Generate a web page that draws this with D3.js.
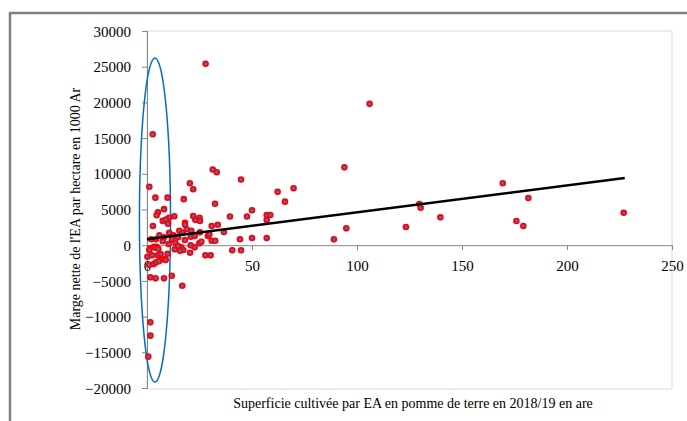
<!DOCTYPE html>
<html>
<head>
<meta charset="utf-8">
<script src="https://d3js.org/d3.v7.min.js"></script>
<style>
  html, body { margin: 0; padding: 0; background: #fff; }
  svg { display: block; }
  text { font-family: "Liberation Serif", "DejaVu Serif", serif; fill: #000; }
</style>
</head>
<body>
<svg id="chart" width="687" height="421"></svg>
<script>
// Superficie (are)
const areaValues = [
  106, 94, 62.2, 69.8, 65.7, 57, 58.7, 129.7, 130.3, 139.7, 123.3, 94.9, 89,
  169.4, 181.6, 175.9, 179.2, 227,
  27.9, 2.7, 31.3, 33.2, 44.8, 1.1, 20.4, 22, 4, 9.8, 17.5, 32.4, 8.1, 50,
  5.2, 4.6, 47.6, 39.5, 57, 13, 10.5, 7.5, 9, 10, 22, 23, 25, 25.2,
  18.1, 18.1, 30.8, 33.7, 2.8, 29, 29.7, 25.2, 36.6,
  15.4, 17, 18.9, 21.1, 10.6, 5.9, 8.1, 12.5, 2, 4.3, 11.9,
  14.8, 18, 20.8, 22.7, 24.9, 25.9, 30.8, 32.5, 44.3, 50, 57,
  13.5, 10.3, 7.5, 4.6, 1.4, 3.3, 13.2, 16.3, 14.8, 17.3, 20.5, 15.7,
  22.7, 20.8, 27.8, 30.3, 40.6, 44.8, 0.2, 2.4, 5.2, 6.5, 7.1, 8.7,
  1.1, 3.2, 4.3, 5.7, 8.9, 1.6, 4.1, 8.1, 11.8, 16.8, 1.6, 1.6, 0.6,
  1.1, 4.1, 5.4, 9.8
];
// Marge nette (1000 Ar / ha)
const margeValues = [
  19800, 10900, 7470, 7970, 6100, 4230, 4230, 5770, 5250, 3900, 2550, 2360, 820,
  8670, 6610, 3390, 2690, 4550,
  25420, 15530, 10600, 10210, 9200, 8190, 8670, 7830, 6660, 6660, 6450, 5800, 5050, 4900,
  4600, 4200, 4020, 4020, 3530, 4050, 3850, 3400, 3580, 3000, 4100, 3550, 3850, 3400,
  3150, 2900, 2690, 2870, 2690, 1290, 1530, 1800, 1850,
  2030, 1750, 2230, 2030, 1750, 1390, 1110, 1390, 830, 830, 830,
  1110, 730, 1190, 1290, 270, 490, 630, 630, 830, 1000, 1000,
  350, 170, 550, -210, -430, -210, -580, -300, -110, -670, -1050, -770,
  -300, -20, -1420, -1420, -700, -700, -1610, -1420, -1420, -1230, -1970, -1950,
  -2730, -2650, -2400, -2250, -2070, -4500, -4640, -4640, -4270, -5670, -10800, -12670, -15610,
  -670, -350, -490, -1190
];
// Trend line end points
const trendX = [0, 227.5];
const trendY = [830, 9410];
// Ellipse highlighting the small plots (centre and radii in data units)
const ellipseCentre = [3.8, 3530];
const ellipseRadii = [7.4, 22700];

const xTicks = [0, 50, 100, 150, 200, 250];
const yTicks = [-20000, -15000, -10000, -5000, 0, 5000, 10000, 15000, 20000, 25000, 30000];

const svg = d3.select("#chart");
const x = d3.scaleLinear().domain([0, 250]).range([147, 672]);
const y = d3.scaleLinear().domain([-20000, 30000]).range([388, 31]);

// outer frame
svg.append("path")
  .attr("d", "M10,421 L10,13 L687,13")
  .attr("fill", "none").attr("stroke", "#7f7f7f").attr("stroke-width", 2.5);

// plot area border
svg.append("rect")
  .attr("x", x(0)).attr("y", y(30000))
  .attr("width", x(250) - x(0)).attr("height", y(-20000) - y(30000) + 1)
  .attr("fill", "none").attr("stroke", "#d9d9d9").attr("stroke-width", 1);

// y axis
const yAxis = svg.append("g")
  .attr("transform", `translate(${x(0)},0)`)
  .call(d3.axisLeft(y).tickValues(yTicks).tickSize(5).tickPadding(11).tickFormat(d3.format("d")));
yAxis.select(".domain").attr("stroke", "#868686");
yAxis.selectAll(".tick line").attr("stroke", "#868686");
yAxis.selectAll("text").attr("font-size", 15).attr("font-family", "Liberation Serif").attr("dy", "0.34em");

// x axis at zero
const xAxis = svg.append("g")
  .attr("transform", `translate(0,${y(0)})`)
  .call(d3.axisBottom(x).tickValues(xTicks).tickSize(5).tickSizeOuter(0).tickPadding(10).tickFormat(d3.format("d")));
xAxis.select(".domain").attr("stroke", "#868686");
xAxis.selectAll(".tick line").attr("stroke", "#868686");
xAxis.selectAll("text").attr("font-size", 15).attr("font-family", "Liberation Serif");

// ellipse
svg.append("ellipse")
  .attr("cx", x(ellipseCentre[0])).attr("cy", y(ellipseCentre[1]))
  .attr("rx", x(ellipseRadii[0]) - x(0)).attr("ry", y(0) - y(ellipseRadii[1]))
  .attr("fill", "none").attr("stroke", "#0070C0").attr("stroke-width", 1.5);

// points
const pts = areaValues.map((v, i) => ({ a: v, m: margeValues[i] }));
svg.append("g").selectAll("circle").data(pts).join("circle")
  .attr("cx", d => x(d.a)).attr("cy", d => y(d.m)).attr("r", 2.4)
  .attr("fill", "#4472C4").attr("stroke", "#FF0000").attr("stroke-width", 1.8);

// trend line
svg.append("line")
  .attr("x1", x(trendX[0])).attr("y1", y(trendY[0]))
  .attr("x2", x(trendX[1])).attr("y2", y(trendY[1]))
  .attr("stroke", "#000").attr("stroke-width", 2.5);

// axis titles
svg.append("text")
  .attr("x", 413).attr("y", 408)
  .attr("text-anchor", "middle").attr("font-size", 14)
  .text("Superficie cultivée par EA en pomme de terre en 2018/19 en are");

svg.append("text")
  .attr("transform", "translate(80,209) rotate(-90)")
  .attr("text-anchor", "middle").attr("font-size", 14)
  .text("Marge nette de l'EA par hectare en 1000 Ar");
</script>
</body>
</html>
